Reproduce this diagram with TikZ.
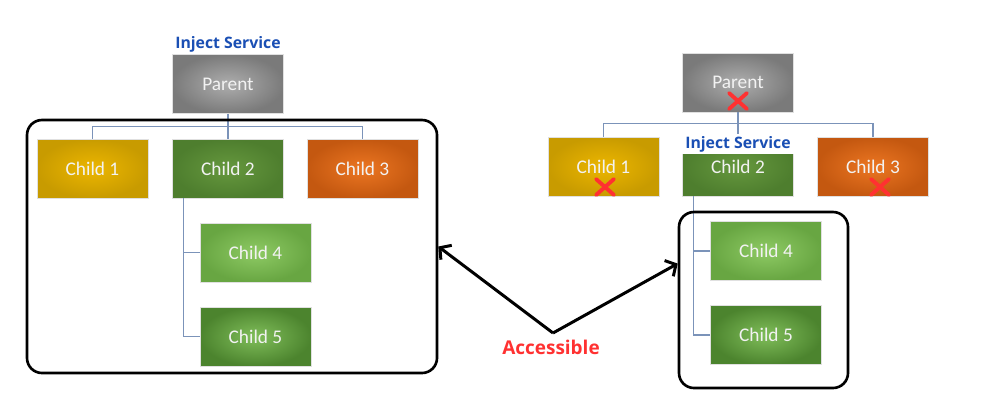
\documentclass[tikz,border=0pt]{standalone}
\usepackage{fontspec}
\setmainfont{Carlito}
\newfontfamily\labelfont{Open Sans}
\usetikzlibrary{arrows.meta, shapes.misc, fit}

\definecolor{linkblue}{HTML}{7B93B9}
\definecolor{injectblue}{HTML}{1A4FB4}
\definecolor{accred}{HTML}{FF3131}

\begin{document}
\begin{tikzpicture}
        [x=0.02cm, y=-0.02cm,
         box/.style={shape=rectangle, minimum width=2.22cm, minimum height=1.18cm, inner sep=0, draw=black!12, line width=0.4pt, shading=radial, text=white!95!black, font=\fontsize{11}{13}\selectfont},
         gray/.style={box, outer color=black!52, inner color=black!32},
         gold/.style={box, outer color={rgb,255:red,200;green,155;blue,0}, inner color={rgb,255:red,236;green,182;blue,0}},
         green/.style={box, outer color={rgb,255:red,78;green,126;blue,46}, inner color={rgb,255:red,102;green,152;blue,62}},
         orange/.style={box, outer color={rgb,255:red,196;green,88;blue,16}, inner color={rgb,255:red,236;green,118;blue,34}},
         lightgreen/.style={box, outer color={rgb,255:red,104;green,166;blue,66}, inner color={rgb,255:red,142;green,202;blue,100}},
         midgreen/.style={box, outer color={rgb,255:red,76;green,132;blue,46}, inner color={rgb,255:red,128;green,190;blue,90}},
         link/.style={draw=linkblue, line width=0.7pt},
         grp/.style={draw, rounded corners=0.3cm, line width=1.5pt, inner sep=0},
         inject/.style={text=injectblue, font=\labelfont\bfseries\fontsize{9}{11}\selectfont},
         crossmark/.style={cross out, draw=accred, line width=2.2pt, line cap=round, minimum width=0.28cm, minimum height=0.24cm, inner sep=0},
         arr/.style={-{Straight Barb[length=1.6mm, width=3.6mm]}, line width=1.7pt}]

        \useasboundingbox (0,0) rectangle (1000,400);

        \node[inject] (linj) at (228,44) {Inject Service};
        \node[gray] (lp) at (228,84) {Parent};
        \node[gold] (lc1) at (92.5,168.5) {Child 1};
        \node[green] (lc2) at (228,168.5) {Child 2};
        \node[orange] (lc3) at (362.5,168.5) {Child 3};
        \node[lightgreen] (lc4) at (255.5,252.5) {Child 4};
        \node[midgreen] (lc5) at (255.5,336.5) {Child 5};

        \draw[link] (lp) -- (lc2);
        \draw[link] (lc1.north) -- ++(0,-12) -| (lc3.north);
        \draw[link] (lc2.south west) ++(11,0) |- (lc5.west);
        \draw[link] (lc4.west) -- ++(-17,0);

        \node[gray] (rp) at (738,82.5) {Parent};
        \node[gold] (rc1) at (603.5,166.5) {Child 1};
        \node[green] (rc2) at (738,166.5) {Child 2};
        \node[orange] (rc3) at (873,166.5) {Child 3};
        \node[lightgreen] (rc4) at (766,251) {Child 4};
        \node[midgreen] (rc5) at (766,335) {Child 5};

        \draw[link] (rp) -- (rc2);
        \draw[link] (rc1.north) -- ++(0,-13) -| (rc3.north);
        \draw[link] (rc2.south west) ++(11,0) |- (rc5.west);
        \draw[link] (rc4.west) -- ++(-16,0);

        \node[inject, fill=white, minimum width=2.3cm, inner ysep=1pt] (rinj) at (738,144) {Inject Service};

        \node[crossmark] (rpx) at (738,101) {};
        \node[crossmark] (rc1x) at (605,187) {};
        \node[crossmark] (rc3x) at (880,187) {};

        \node[grp, fit={(27,120) (437,373)}] (lgrp) {};
        \node[grp, fit={(679,212) (848,388)}] (rgrp) {};

        \coordinate (apex) at (553,333);
        \node[text=accred, font=\labelfont\bfseries\fontsize{10.8}{13}\selectfont] (acc) at (551,347) {Accessible};

        \draw[arr] (apex) -- (lgrp.east);
        \draw[arr] (apex) -- (rgrp.157.5);
      \end{tikzpicture}
\end{document}
